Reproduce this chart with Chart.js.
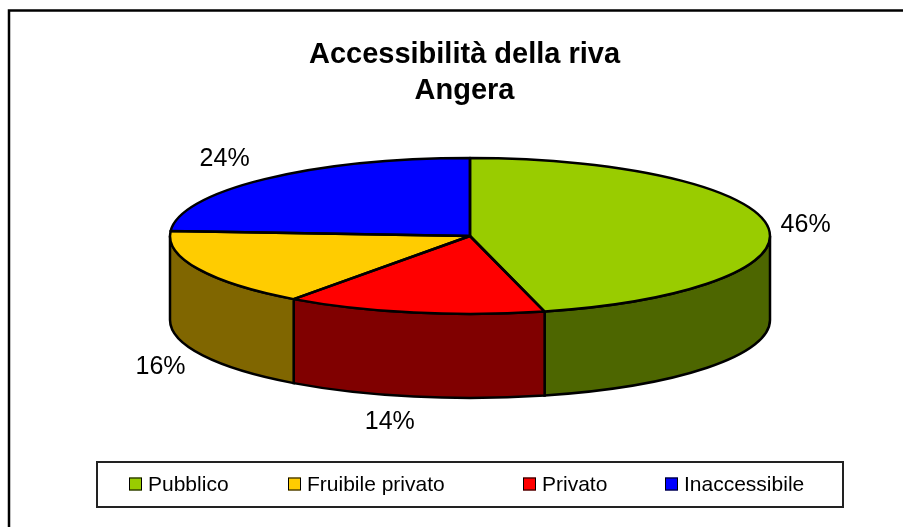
<!DOCTYPE html>
<html>
<head>
<meta charset="utf-8">
<style>
html, body { margin: 0; padding: 0; background: #fff; }
#wrap { position: relative; width: 903px; height: 527px; }
</style>
<script src="https://cdn.jsdelivr.net/npm/chart.js@4/dist/chart.umd.min.js"></script>
</head>
<body>
<div id="wrap"><canvas id="chart" width="903" height="527"></canvas></div>
<script>
const categories = ['Pubblico', 'Fruibile privato', 'Privato', 'Inaccessibile'];
const sliceLabels = ['Pubblico', 'Privato', 'Fruibile privato', 'Inaccessibile'];
const sliceValues = [46, 14, 16, 24];
const topColors = ['#99CC00', '#FF0000', '#FFCC00', '#0000FF'];
const wallColors = ['#4D6600', '#800000', '#806600', '#000080'];
const titleLines = ['Accessibilità della riva', 'Angera'];

// look of the tilted pie
const pie = { x: 470, y: 236, rx: 300, ry: 78, depth: 84 };
const labelOffsets = [[38, -1], [-24, 25], [-38, 14], [-40, -20]];
const legendBox = { left: 97, top: 462, right: 843, bottom: 507 };
const legendX = [129, 288, 523, 665];

// walls and outlines are drawn around the arcs the library laid out
const tiltedPie = {
    id: 'tiltedPie',
    beforeDatasetsDraw(chart) {
        const ctx = chart.ctx;
        const arcs = chart.getDatasetMeta(0).data;
        ctx.save();
        ctx.strokeStyle = '#000';
        ctx.lineWidth = 2.5;
        arcs.forEach((arc, i) => {
            const a = Math.max(arc.startAngle, 0);
            const b = Math.min(arc.endAngle, Math.PI);
            if (b <= a) return;
            ctx.beginPath();
            ctx.ellipse(pie.x, pie.y, pie.rx, pie.ry, 0, a, b);
            ctx.ellipse(pie.x, pie.y + pie.depth, pie.rx, pie.ry, 0, b, a, true);
            ctx.closePath();
            ctx.fillStyle = wallColors[i];
            ctx.fill();
            ctx.stroke();
        });
        ctx.restore();
    },
    beforeDatasetDraw(chart) {
        const ctx = chart.ctx;
        const arc = chart.getDatasetMeta(0).data[0];
        ctx.save();
        ctx.translate(pie.x, pie.y);
        ctx.scale(pie.rx / arc.outerRadius, pie.ry / arc.outerRadius);
        ctx.translate(-arc.x, -arc.y);
    },
    afterDatasetDraw(chart) {
        const ctx = chart.ctx;
        ctx.restore();
        ctx.save();
        ctx.strokeStyle = '#000';
        ctx.lineWidth = 2.5;
        ctx.lineJoin = 'round';
        chart.getDatasetMeta(0).data.forEach(arc => {
            ctx.beginPath();
            ctx.moveTo(pie.x, pie.y);
            ctx.ellipse(pie.x, pie.y, pie.rx, pie.ry, 0, arc.startAngle, arc.endAngle);
            ctx.closePath();
            ctx.stroke();
        });
        ctx.restore();
    },
    afterDraw(chart) {
        const ctx = chart.ctx;
        const arcs = chart.getDatasetMeta(0).data;
        ctx.save();

        // frame: the picture is cropped, only top and left edges are left
        ctx.strokeStyle = '#000';
        ctx.lineWidth = 2.5;
        ctx.beginPath();
        ctx.moveTo(9, 527);
        ctx.lineTo(9, 10.5);
        ctx.lineTo(903, 10.5);
        ctx.stroke();

        // percent labels
        ctx.fillStyle = '#000';
        ctx.font = '25px "Liberation Sans", Arial, sans-serif';
        ctx.textAlign = 'center';
        ctx.textBaseline = 'middle';
        arcs.forEach((arc, i) => {
            const mid = (arc.startAngle + arc.endAngle) / 2;
            const x = pie.x + pie.rx * Math.cos(mid);
            let y = pie.y + pie.ry * Math.sin(mid);
            if (Math.sin(mid) > 0.1) y += pie.depth;
            ctx.fillText(sliceValues[i] + '%', x + labelOffsets[i][0], y + labelOffsets[i][1]);
        });

        // legend
        ctx.lineWidth = 2;
        ctx.strokeStyle = '#222';
        ctx.strokeRect(legendBox.left, legendBox.top, legendBox.right - legendBox.left, legendBox.bottom - legendBox.top);
        ctx.font = '21px "Liberation Sans", Arial, sans-serif';
        ctx.textAlign = 'left';
        const midY = (legendBox.top + legendBox.bottom) / 2;
        categories.forEach((name, i) => {
            ctx.fillStyle = topColors[sliceLabels.indexOf(name)];
            ctx.fillRect(legendX[i], midY - 7, 13, 13);
            ctx.lineWidth = 1;
            ctx.strokeStyle = '#000';
            ctx.strokeRect(legendX[i] + 0.5, midY - 6.5, 12, 12);
            ctx.fillStyle = '#000';
            ctx.fillText(name, legendX[i] + 19, midY + 1);
        });
        ctx.restore();
    }
};

new Chart(document.getElementById('chart'), {
    type: 'pie',
    data: {
        labels: sliceLabels,
        datasets: [{
            data: sliceValues,
            backgroundColor: topColors,
            borderWidth: 0,
            clip: false
        }]
    },
    options: {
        responsive: false,
        animation: false,
        radius: 300,
        layout: { padding: { left: 26, top: 37 } },
        plugins: {
            legend: { display: false },
            tooltip: { enabled: false },
            title: {
                display: true,
                text: titleLines,
                color: '#000',
                font: { family: '"Liberation Sans", Arial, sans-serif', size: 29, weight: 'bold', lineHeight: 1.24 },
                padding: 0
            }
        }
    },
    plugins: [tiltedPie]
});
</script>
</body>
</html>
